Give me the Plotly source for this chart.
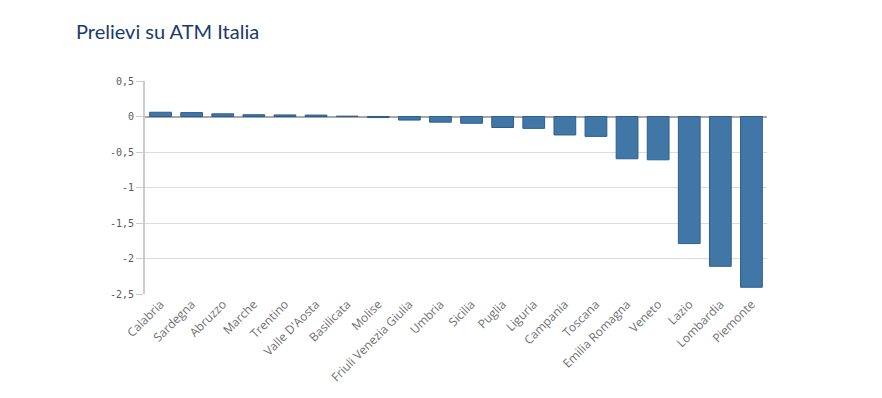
import plotly.graph_objects as go

regions = ["Calabria", "Sardegna", "Abruzzo", "Marche", "Trentino", "Valle D'Aosta",
           "Basilicata", "Molise", "Friuli Venezia Giulia", "Umbria", "Sicilia", "Puglia",
           "Liguria", "Campania", "Toscana", "Emilia Romagna", "Veneto", "Lazio",
           "Lombardia", "Piemonte"]
values = [0.06, 0.055, 0.038, 0.025, 0.022, 0.02, 0.005, -0.015, -0.05, -0.08,
          -0.095, -0.155, -0.167, -0.26, -0.28, -0.595, -0.61, -1.79, -2.11, -2.405]

y_tickvals = [0.5, 0, -0.5, -1, -1.5, -2, -2.5]
y_ticktext = ["0,5", "0", "-0,5", "-1", "-1,5", "-2", "-2,5"]

fig = go.Figure(go.Bar(
    x=regions, y=values,
    marker=dict(color="#4177a6", line=dict(color="#2c5e8c", width=1)),
))

fig.update_layout(
    width=882, height=398,
    margin=dict(l=137, r=123, t=73, b=112),
    paper_bgcolor="white", plot_bgcolor="white",
    bargap=0.3,
    showlegend=False,
    title=dict(text="Prelievi su ATM Italia", x=68 / 882, xanchor="left",
               y=1 - 24 / 398, yanchor="middle",
               font=dict(family="Lato, Open Sans, sans-serif", size=20, color="#1b3a6e")),
)
fig.update_yaxes(
    range=[-2.5, 0.5], tickvals=y_tickvals, ticktext=y_ticktext,
    showgrid=True, gridcolor="#dcdcdc", gridwidth=1,
    zeroline=True, zerolinecolor="#a8a8a8", zerolinewidth=2,
    showline=True, linecolor="#cccccc", linewidth=2,
    ticks="outside", ticklen=7, tickcolor="#cccccc",
    tickfont=dict(family="DejaVu Sans Mono, monospace", size=10, color="#595959"),
)
fig.update_xaxes(
    tickangle=-45, showgrid=False, showline=False, ticks="",
    tickfont=dict(family="Open Sans, sans-serif", size=12, color="#707070"),
)

fig.write_html("out.html")
